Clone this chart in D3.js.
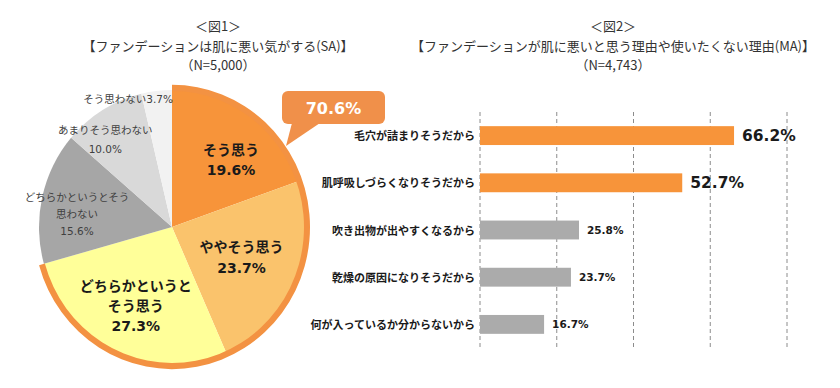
<!DOCTYPE html>
<html><head><meta charset="utf-8">
<script src="https://cdn.jsdelivr.net/npm/d3@7"></script>
<style>
body{margin:0;background:#fff;}
svg{display:block;}
text{font-family:"DejaVu Sans","Noto Sans CJK JP",sans-serif;}
</style></head><body>
<svg id="c" width="840" height="388"></svg>
<script>
// ---- Data ----
const pieCategories = ["そう思う","ややそう思う","どちらかというとそう思う","どちらかというとそう思わない","あまりそう思わない","そう思わない"];
const pieValues = [19.6, 23.7, 27.3, 15.6, 10.0, 3.7];
const pieColors = ["#F7943A","#FAC36C","#FFFF99","#A6A6A6","#D9D9D9","#F2F2F2"];
const pieLabelLines = [["そう思う","19.6%"],["ややそう思う","23.7%"],["どちらかというと","そう思う","27.3%"],["どちらかというとそう","思わない","15.6%"],["あまりそう思わない","10.0%"],["そう思わない3.7%"]];
const agreeTotal = "70.6%";

const barCategories = ["毛穴が詰まりそうだから","肌呼吸しづらくなりそうだから","吹き出物が出やすくなるから","乾燥の原因になりそうだから","何が入っているか分からないから"];
const barValues = [66.2, 52.7, 25.8, 23.7, 16.7];
const barTicks = [0, 20, 40, 60, 80];

const title1 = ["＜図1＞","【ファンデーションは肌に悪い気がする(SA)】","（N=5,000）"];
const title2 = ["＜図2＞","【ファンデーションが肌に悪いと思う理由や使いたくない理由(MA)】","（N=4,743）"];

// ---- Drawing ----
const svg = d3.select("#c");

function title(lines, cx){
  const t = svg.append("text").attr("text-anchor","middle").attr("fill","#333")
    .style("font-size","13px").style("font-family",'"Noto Sans CJK JP","DejaVu Sans",sans-serif');
  lines.forEach((l,i)=>t.append("tspan").attr("x",cx).attr("y",31+i*19.5).text(l));
}
title(title1, 218);
title(title2, 613);

// Pie
const cx = 172, cy = 227, R = 133, sy = 1.03;
const pie = d3.pie().sort(null).value(d=>d).startAngle(0).endAngle(2*Math.PI);
const arcs = pie(pieValues);
const arc = d3.arc().innerRadius(0).outerRadius(R);
const pg = svg.append("g").attr("transform",`translate(${cx},${cy}) scale(1,${sy})`);
pg.selectAll("path.s").data(arcs).join("path").attr("class","s")
  .attr("d",arc).attr("fill",(d,i)=>pieColors[i]);
// ring around the "agree" group
const agreeEnd = arcs[2].endAngle;
pg.append("path").attr("d", d3.arc().innerRadius(R-1).outerRadius(R+5)({startAngle:0,endAngle:agreeEnd}))
  .attr("fill","#F39242");

// pie labels
const labelR = [0.66, 0.57, 0.64, 0.72, 0.81, null];
const labelStyle = [
  {size:14,weight:"bold",lh:20,color:"#1a1a1a"},
  {size:14,weight:"bold",lh:21,color:"#1a1a1a"},
  {size:14,weight:"bold",lh:20,color:"#1a1a1a"},
  {size:10.5,weight:"normal",lh:17,color:"#404040"},
  {size:10.5,weight:"normal",lh:19,color:"#404040"},
  {size:10.5,weight:"normal",lh:17,color:"#404040"}];
const lg = svg.append("g").attr("transform",`translate(${cx},${cy})`);
arcs.forEach((a,i)=>{
  const st = labelStyle[i];
  let x, y, anchor="middle";
  if(labelR[i]!==null){
    const mid=(a.startAngle+a.endAngle)/2;
    const adj = i===0 ? 0.12 : (i===3 ? -0.09 : (i===4 ? -0.12 : 0));
    const m = mid+adj;
    x = Math.sin(m)*R*labelR[i]; y = -Math.cos(m)*R*labelR[i]*sy;
  } else {
    x = 1; y = -R*sy*0.93; anchor="end";
  }
  const n = pieLabelLines[i].length;
  const t = lg.append("text").attr("text-anchor",anchor).attr("fill",st.color)
    .style("font-size",st.size+"px").style("font-weight",st.weight);
  pieLabelLines[i].forEach((l,k)=>{
    t.append("tspan").attr("x",x).attr("y",y+(k-(n-1)/2)*st.lh+st.size*0.36).text(l);
  });
});

// callout
const co = svg.append("g").attr("transform",`translate(${cx},${cy})`);
const bx=110, by=-136, bw=103, bh=33;
co.append("path").attr("d",`M${bx+10},${by+bh-1} L${bx+38},${by+bh-1} L${bx+4},${by+bh+22} Z`).attr("fill","#F0904A");
co.append("rect").attr("x",bx).attr("y",by).attr("width",bw).attr("height",bh).attr("rx",6).attr("fill","#F0904A");
co.append("text").attr("x",bx+bw/2).attr("y",by+bh/2+6).attr("text-anchor","middle")
  .attr("fill","#fff").style("font-size","16px").style("font-weight","bold").text(agreeTotal);

// Bars
const x = d3.scaleLinear().domain([0,80]).range([480,787]);
const y = d3.scaleBand().domain(barCategories).range([112,348]).paddingInner(0.6).paddingOuter(0.3);
const bg = svg.append("g");
bg.selectAll("line.g").data(barTicks).join("line").attr("class","g")
  .attr("x1",d=>x(d)).attr("x2",d=>x(d)).attr("y1",112).attr("y2",348)
  .attr("stroke","#8c8c8c").attr("stroke-width",1).attr("stroke-dasharray","4,3");
bg.selectAll("rect.b").data(barValues).join("rect").attr("class","b")
  .attr("x",x(0)).attr("y",(d,i)=>y(barCategories[i]))
  .attr("width",d=>x(d)-x(0)).attr("height",y.bandwidth())
  .attr("fill",(d,i)=>i<2?"#F7943A":"#ABABAB");
bg.selectAll("text.c").data(barCategories).join("text").attr("class","c")
  .attr("x",x(0)-5).attr("y",d=>y(d)+y.bandwidth()/2+4.5).attr("text-anchor","end")
  .attr("fill","#1a1a1a").style("font-size","11px").style("font-weight","bold")
  .style("font-family",'"Noto Sans CJK JP",sans-serif').text(d=>d);
bg.selectAll("text.v").data(barValues).join("text").attr("class","v")
  .attr("x",d=>x(d)+8).attr("y",(d,i)=>y(barCategories[i])+y.bandwidth()/2+(i<2?5:4))
  .attr("fill","#1a1a1a").style("font-size",(d,i)=>i<2?"15.5px":"10.5px").style("font-weight","bold")
  .text(d=>d.toFixed(1)+"%");
</script>
</body></html>
